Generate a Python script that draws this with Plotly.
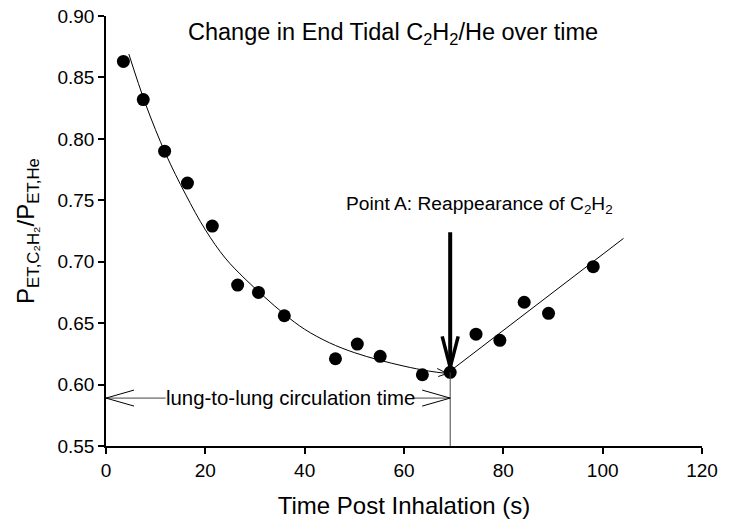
import plotly.graph_objects as go

# Measured data points
time_s = [3.5, 7.5, 11.8, 16.4, 21.4, 26.5, 30.7, 35.9, 46.2, 50.6, 55.2, 63.7, 69.3, 74.5, 79.3, 84.2, 89.1, 98.1]
ratio = [0.863, 0.832, 0.790, 0.764, 0.729, 0.681, 0.675, 0.656, 0.621, 0.633, 0.623, 0.608, 0.610, 0.641, 0.636, 0.667, 0.658, 0.696]

# Fitted decay curve
fit_x = [4.6, 8, 12, 16, 20, 24, 28, 32, 36, 40, 45, 50, 55, 60, 65, 68.7]
fit_y = [0.869, 0.828, 0.788, 0.755, 0.726, 0.703, 0.686, 0.671, 0.657, 0.645, 0.634, 0.626, 0.620, 0.615, 0.611, 0.609]

# Rising regression line after reappearance
line_x = [69.3, 104.2]
line_y = [0.611, 0.719]

# Annotation anchors
point_a_x = 69.3
point_a_top = 0.724
point_a_tip = 0.614
circ_y = 0.589
circ_text_x = [12.0, 61.8]

x_ticks = [0, 20, 40, 60, 80, 100, 120]
y_ticks = [0.55, 0.60, 0.65, 0.70, 0.75, 0.80, 0.85, 0.90]

FONT = "Liberation Sans, Arial, sans-serif"

fig = go.Figure()

fig.add_trace(go.Scatter(x=fit_x, y=fit_y, mode="lines",
                         line=dict(color="black", width=1, shape="spline", smoothing=1.0),
                         hoverinfo="skip", showlegend=False))
fig.add_trace(go.Scatter(x=line_x, y=line_y, mode="lines",
                         line=dict(color="black", width=1),
                         hoverinfo="skip", showlegend=False))
fig.add_trace(go.Scatter(x=time_s, y=ratio, mode="markers",
                         marker=dict(color="black", size=13),
                         showlegend=False))

shapes = []
def seg(x0, y0, x1, y1, w=1, color="black"):
    shapes.append(dict(type="line", xref="x", yref="y", x0=x0, y0=y0, x1=x1, y1=y1,
                       line=dict(color=color, width=w)))

def chevron(tx, ty, pts, w=1):
    for dx, dy in pts:
        shapes.append(dict(type="line", xref="x", yref="y",
                           xsizemode="pixel", ysizemode="pixel",
                           xanchor=tx, yanchor=ty, x0=0, y0=0, x1=dx, y1=dy,
                           line=dict(color="black", width=w)))

# vertical drop line at Point A
seg(point_a_x, 0.55, point_a_x, ratio[12], w=1, color="#444444")
# lung-to-lung double arrow
seg(0, circ_y, circ_text_x[0], circ_y, w=1, color="#444444")
seg(circ_text_x[1], circ_y, point_a_x, circ_y, w=1, color="#444444")
chevron(0, circ_y, [(28, 8), (28, -8)], w=1)
chevron(point_a_x, circ_y, [(-28, 8), (-28, -8)], w=1)
# big bold arrow
seg(point_a_x, point_a_top, point_a_x, point_a_tip, w=4)
chevron(point_a_x, point_a_tip, [(-8, 31), (8, 31)], w=3.5)
# small arrow head at end of fitted curve
chevron(fit_x[-1], fit_y[-1], [(-10, 5), (-9, -3)], w=1)

fig.update_layout(shapes=shapes)

fig.add_annotation(x=57.8, y=0.886, xref="x", yref="y",
                   text="Change in End Tidal C<sub>2</sub>H<sub>2</sub>/He over time",
                   showarrow=False, font=dict(family=FONT, size=23.5, color="black"),
                   xanchor="center", yanchor="middle")
fig.add_annotation(x=75.1, y=0.746, xref="x", yref="y",
                   text="Point A: Reappearance of C<sub>2</sub>H<sub>2</sub>",
                   showarrow=False, font=dict(family=FONT, size=19.2, color="black"),
                   xanchor="center", yanchor="middle")
fig.add_annotation(x=circ_text_x[0], y=circ_y, xref="x", yref="y",
                   text="lung-to-lung circulation time",
                   showarrow=False, font=dict(family=FONT, size=20.4, color="black"),
                   xanchor="left", yanchor="middle", xshift=-2)

fig.update_layout(
    width=729, height=526,
    margin=dict(l=105.5, r=27, t=16, b=80, autoexpand=False),
    paper_bgcolor="white", plot_bgcolor="white",
    font=dict(family=FONT, color="black"),
    xaxis=dict(range=[0, 120], tickvals=x_ticks, ticktext=[str(v) for v in x_ticks],
               showgrid=False, zeroline=False, showline=True, linecolor="black", linewidth=1.5,
               ticks="outside", ticklen=6, tickwidth=1.5, tickcolor="black", automargin=False,
               tickfont=dict(family=FONT, size=19),
               title=dict(text="Time Post Inhalation (s)", font=dict(family=FONT, size=24), standoff=18)),
    yaxis=dict(range=[0.55, 0.90], tickvals=y_ticks, ticktext=[f"{v:.2f}" for v in y_ticks],
               showgrid=False, zeroline=False, showline=True, linecolor="black", linewidth=1.5,
               ticks="outside", ticklen=6, tickwidth=1.5, tickcolor="black", automargin=False,
               tickfont=dict(family=FONT, size=19),
               title=dict(text="P<sub>ET,C₂H₂</sub>/P<sub>ET,He</sub>", font=dict(family=FONT, size=24), standoff=16)),
)

fig.write_html("out.html", config={"displayModeBar": False},
               post_script="document.body.style.margin='0';document.body.style.overflow='hidden';")
